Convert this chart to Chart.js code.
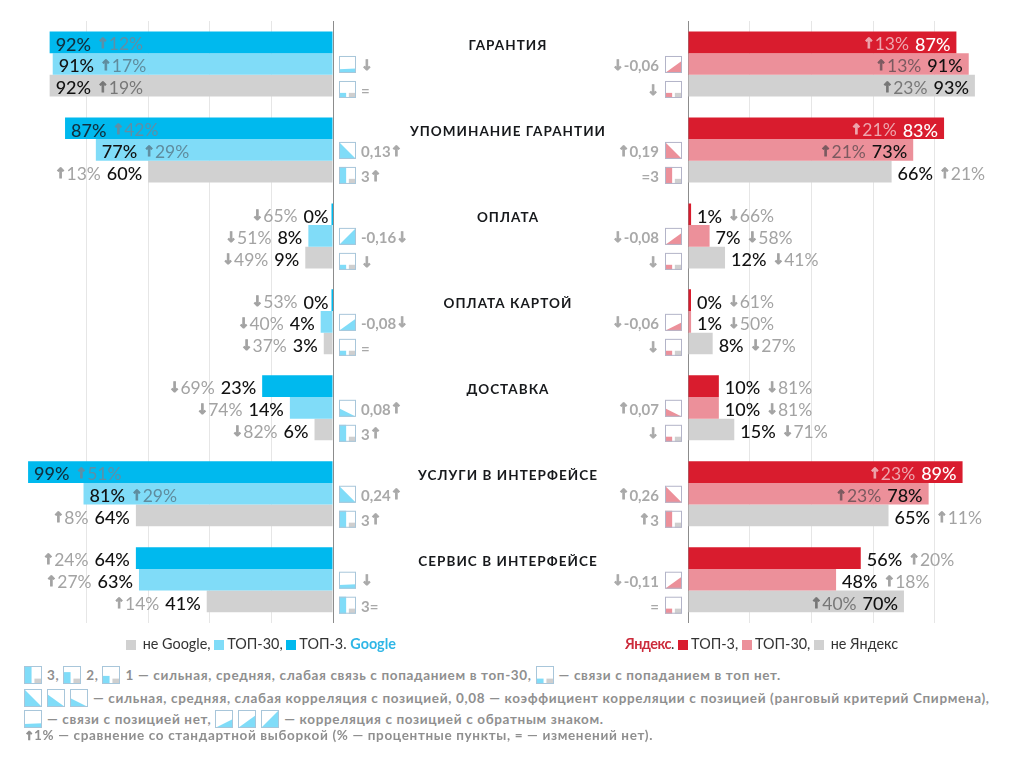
<!DOCTYPE html>
<html lang="ru">
<head>
<meta charset="utf-8">
<title>Гарантия, оплата, доставка</title>
<script src="https://cdn.jsdelivr.net/npm/chart.js@4/dist/chart.umd.min.js"></script>
<style>
    html, body { margin: 0; padding: 0; background: #fff; }
    body { width: 1024px; height: 774px; position: relative; overflow: hidden; font-family: Lato, "DejaVu Sans", sans-serif; }
    canvas.side { position: absolute; top: 0; }
    .title { position: absolute; left: 358px; width: 300px; text-align: center; font-weight: 700; font-size: 13.5px; letter-spacing: 1.05px; color: #17191c; line-height: 16px; white-space: nowrap; }
    .legend { position: absolute; top: 635px; font-size: 14.4px; line-height: 18px; color: #333; white-space: nowrap; }
    .legend i { display: inline-block; width: 10px; height: 10px; margin: 0 3px 0 0; vertical-align: -0.5px; }
    .legend b { font-weight: 700; }
    .note { position: absolute; left: 24px; font-size: 13.5px; font-weight: 700; letter-spacing: 0.65px; color: #8f8f8f; line-height: 18px; white-space: nowrap; }
    .note canvas { vertical-align: -4px; margin-right: 5px; }
    .note span { font: 700 12px "DejaVu Sans", sans-serif; letter-spacing: 0; -webkit-text-stroke: 0.7px #8f8f8f; }
</style>
</head>
<body>
<canvas class="side" id="googleChart" width="512" height="640" style="left:0"></canvas>
<canvas class="side" id="yandexChart" width="512" height="640" style="left:512px"></canvas>
<div id="titles"></div>

<div class="legend" style="left:126px"><i style="background:#d1d1d1"></i> не Google, <i style="background:#80dcf8"></i>ТОП-30, <i style="background:#00b9ee"></i>ТОП-3. <b style="color:#2fb6e6">Google</b></div>
<div class="legend" style="left:625px"><b style="color:#cc2b3b;letter-spacing:-0.5px">Яндекс</b>. <i style="background:#d91c2e"></i>ТОП-3, <i style="background:#ec909a"></i>ТОП-30, <i style="background:#d1d1d1"></i> не Яндекс</div>

<div class="note" style="top:666px"><canvas data-icon="l3"></canvas>3, <canvas data-icon="l2"></canvas>2, <canvas data-icon="l1"></canvas>1 — сильная, средняя, слабая связь с попаданием в топ-30, <canvas data-icon="l0"></canvas>— связи с попаданием в топ нет.</div>
<div class="note" style="top:689px"><canvas data-icon="p3"></canvas><canvas data-icon="p2"></canvas><canvas data-icon="p1"></canvas>— сильная, средняя, слабая корреляция с позицией, 0,08 — коэффициент корреляции с позицией (ранговый критерий Спирмена),</div>
<div class="note" style="top:710px"><canvas data-icon="none"></canvas>— связи с позицией нет, <canvas data-icon="n1"></canvas><canvas data-icon="n2"></canvas><canvas data-icon="n3"></canvas>— корреляция с позицией с обратным знаком.</div>
<div class="note" style="top:726px"><span>↑</span>1% — сравнение со стандартной выборкой (% — процентные пункты, = — изменений нет).</div>

<script>
const categories = ['ГАРАНТИЯ', 'УПОМИНАНИЕ ГАРАНТИИ', 'ОПЛАТА', 'ОПЛАТА КАРТОЙ', 'ДОСТАВКА', 'УСЛУГИ В ИНТЕРФЕЙСЕ', 'СЕРВИС В ИНТЕРФЕЙСЕ'];
const xTicks = [0, 20, 40, 60, 80];

// Google
const googleTop3 = [92, 87, 0, 0, 23, 99, 64];
const googleTop30 = [91, 77, 8, 4, 14, 81, 63];
const googleOther = [92, 60, 9, 3, 6, 64, 41];
const googleTop3Delta = ['↑12%', '↑42%', '↓65%', '↓53%', '↓69%', '↑51%', '↑24%'];
const googleTop30Delta = ['↑17%', '↑29%', '↓51%', '↓40%', '↓74%', '↑29%', '↑27%'];
const googleOtherDelta = ['↑19%', '↑13%', '↓49%', '↓37%', '↓82%', '↑8%', '↑14%'];
const googleCorrIcons = ['none', 'p3', 'n3', 'n2', 'p1', 'p3', 'none'];
const googleCorrText = ['↓', '0,13↑', '-0,16↓', '-0,08↓', '0,08↑', '0,24↑', '↓'];
const googleLinkIcons = ['l0', 'l3', 'l0', 'l0', 'l3', 'l3', 'l3'];
const googleLinkText = ['=', '3↑', '↓', '=', '3↑', '3↑', '3='];

// Яндекс
const yandexTop3 = [87, 83, 1, 0, 10, 89, 56];
const yandexTop30 = [91, 73, 7, 1, 10, 78, 48];
const yandexOther = [93, 66, 12, 8, 15, 65, 70];
const yandexTop3Delta = ['↑13%', '↑21%', '↓66%', '↓61%', '↓81%', '↑23%', '↑20%'];
const yandexTop30Delta = ['↑13%', '↑21%', '↓58%', '↓50%', '↓81%', '↑23%', '↑18%'];
const yandexOtherDelta = ['↑23%', '↑21%', '↓41%', '↓27%', '↓71%', '↑11%', '↑40%'];
const yandexCorrIcons = ['n2', 'p3', 'n2', 'n1', 'p1', 'p3', 'n2'];
const yandexCorrText = ['↓-0,06', '↑0,19', '↓-0,08', '↓-0,06', '↑0,07', '↑0,26', '↓-0,11'];
const yandexLinkIcons = ['l0', 'l3', 'l0', 'l0', 'l0', 'l3', 'l0'];
const yandexLinkText = ['↓', '=3', '↓', '↓', '↓', '↑3', '='];

const BLUE = { fill: '#80dcf8', border: '#a8c6da' };
const RED = { fill: '#ec909a', border: '#b3b4c8' };

// small corr / link marks next to the axis
function drawIcon(ctx, kind, x, y, w, h, pal) {
    const shapes = {
        p3: [[0, 0], [1, 1], [0, 1]],
        p2: [[0, 0.28], [1, 1], [0, 1]],
        p1: [[0, 0.5], [1, 1], [0, 1]],
        n3: [[0, 1], [1, 0], [1, 1]],
        n2: [[0, 1], [1, 0.28], [1, 1]],
        n1: [[0, 1], [1, 0.5], [1, 1]],
        none: [[0, 0.78], [1, 0.74], [1, 1], [0, 1]]
    };
    ctx.save();
    ctx.fillStyle = '#fff';
    ctx.fillRect(x, y, w, h);
    ctx.fillStyle = pal.fill;
    if (shapes[kind]) {
        ctx.beginPath();
        shapes[kind].forEach(p => ctx.lineTo(x + p[0] * w, y + p[1] * h));
        ctx.closePath();
        ctx.fill();
    } else {
        const level = { l3: 1, l2: 0.66, l1: 0.45, l0: 0.3 }[kind];
        ctx.fillRect(x, y + h * (1 - level), w * 0.42, h * level);
        ctx.fillStyle = '#cfcfcf';
        ctx.fillRect(x + w * 0.58, y + h * 0.7, w * 0.42, h * 0.3);
    }
    ctx.strokeStyle = pal.border;
    ctx.lineWidth = 1;
    ctx.strokeRect(x + 0.5, y + 0.5, w - 1, h - 1);
    ctx.restore();
}

const VALUE_FONT = '500 18px Lato, "DejaVu Sans", sans-serif';
const DELTA_FONT = '400 17.5px Lato, "DejaVu Sans", sans-serif';
const ICON_FONT = '700 15px Lato, "DejaVu Sans", sans-serif';
const ARROW_FONT = '700 14px "DejaVu Sans", sans-serif';

// arrows come from another font and get a stroke so they look as heavy as in the print
function drawRuns(ctx, text, x, y, dir, font) {
    const runs = text.split(/([↑↓])/).filter(Boolean).map(t => {
        const arrow = /[↑↓]/.test(t);
        ctx.font = arrow ? ARROW_FONT : font;
        return { t: t, arrow: arrow, w: ctx.measureText(t).width };
    });
    const total = runs.reduce((sum, r) => sum + r.w, 0);
    let cx = dir > 0 ? x : x - total;
    ctx.textAlign = 'left';
    runs.forEach(r => {
        ctx.font = r.arrow ? ARROW_FONT : font;
        ctx.fillText(r.t, cx, y);
        if (r.arrow) {
            ctx.strokeStyle = ctx.fillStyle;
            ctx.lineWidth = 0.9;
            ctx.strokeText(r.t, cx, y);
        }
        cx += r.w;
    });
}

const barLabelsPlugin = {
    id: 'barLabels',
    afterDatasetsDraw(chart, args, opts) {
        const ctx = chart.ctx;
        const flip = opts.side === 'left';
        ctx.save();
        ctx.textBaseline = 'middle';
        chart.data.datasets.forEach((ds, d) => {
            chart.getDatasetMeta(d).data.forEach((bar, i) => {
                const inside = ds.data[i] >= 70;
                const dir = (flip ? 1 : -1) * (inside ? 1 : -1);
                const value = ds.data[i] + '%';
                const y = bar.y + 2.5;
                let x = bar.x + dir * 6;
                ctx.font = VALUE_FONT;
                ctx.fillStyle = inside ? ds.valueColor : '#111';
                const valueWidth = ctx.measureText(value).width;
                drawRuns(ctx, value, x, y, dir, VALUE_FONT);
                x += dir * (valueWidth + 6);
                ctx.fillStyle = inside ? ds.deltaColor : '#a3a3a3';
                drawRuns(ctx, ds.deltas[i], x, y, dir, DELTA_FONT);
            });
        });
        // icons and their captions
        const zero = chart.scales.x.getPixelForValue(0);
        const size = 17;
        const iconX = flip ? zero + 6 : zero - 6 - size;
        const textX = flip ? iconX + size + 5 : iconX - 6;
        const dir = flip ? 1 : -1;
        ctx.fillStyle = '#a9a9a9';
        chart.data.labels.forEach((c, i) => {
            const cy = chart.scales.y.getPixelForValue(i);
            drawIcon(ctx, opts.corrIcons[i], iconX, cy - 8, size, size, opts.palette);
            drawIcon(ctx, opts.linkIcons[i], iconX, cy + 17, size, size, opts.palette);
            drawRuns(ctx, opts.corrText[i], textX, cy + 2, dir, ICON_FONT);
            drawRuns(ctx, opts.linkText[i], textX, cy + 27, dir, ICON_FONT);
        });
        ctx.restore();
    }
};

function createSideChart(canvasId, cfg) {
    return new Chart(document.getElementById(canvasId).getContext('2d'), {
        type: 'bar',
        data: {
            labels: categories,
            datasets: cfg.series.map(s => ({
                data: s.data,
                deltas: s.deltas,
                valueColor: s.valueColor,
                deltaColor: s.deltaColor,
                backgroundColor: s.color,
                categoryPercentage: 0.756,
                barPercentage: 1,
                borderWidth: 0,
                minBarLength: 3
            }))
        },
        options: {
            indexAxis: 'y',
            responsive: false,
            animation: false,
            layout: { padding: cfg.padding },
            plugins: {
                legend: { display: false },
                tooltip: { enabled: false },
                barLabels: {
                    side: cfg.side,
                    palette: cfg.palette,
                    corrIcons: cfg.corrIcons,
                    corrText: cfg.corrText,
                    linkIcons: cfg.linkIcons,
                    linkText: cfg.linkText
                }
            },
            scales: {
                x: {
                    min: 0,
                    max: 100,
                    reverse: cfg.side === 'left',
                    afterBuildTicks: axis => { axis.ticks = xTicks.map(v => ({ value: v })); },
                    ticks: { display: false },
                    border: { display: false },
                    grid: {
                        drawTicks: false,
                        color: c => (c.tick && c.tick.value === 0 ? '#8c8c8c' : '#e6e6e6')
                    }
                },
                y: {
                    display: false,
                    grid: { display: false }
                }
            }
        },
        plugins: [barLabelsPlugin]
    });
}

const googleChart = createSideChart('googleChart', {
    side: 'left',
    padding: { left: 25, right: 179, top: 21, bottom: 17.3 },
    palette: BLUE,
    corrIcons: googleCorrIcons,
    corrText: googleCorrText,
    linkIcons: googleLinkIcons,
    linkText: googleLinkText,
    series: [
        { data: googleTop3, deltas: googleTop3Delta, color: '#00b9ee', valueColor: '#10303f', deltaColor: '#5f8fa6' },
        { data: googleTop30, deltas: googleTop30Delta, color: '#80dcf8', valueColor: '#111', deltaColor: '#5f8c9e' },
        { data: googleOther, deltas: googleOtherDelta, color: '#d1d1d1', valueColor: '#111', deltaColor: '#777' }
    ]
});

createSideChart('yandexChart', {
    side: 'right',
    padding: { left: 176, right: 27.5, top: 21, bottom: 17.3 },
    palette: RED,
    corrIcons: yandexCorrIcons,
    corrText: yandexCorrText,
    linkIcons: yandexLinkIcons,
    linkText: yandexLinkText,
    series: [
        { data: yandexTop3, deltas: yandexTop3Delta, color: '#d91c2e', valueColor: '#fff', deltaColor: '#eda6ae' },
        { data: yandexTop30, deltas: yandexTop30Delta, color: '#ec909a', valueColor: '#111', deltaColor: '#7b5a60' },
        { data: yandexOther, deltas: yandexOtherDelta, color: '#d1d1d1', valueColor: '#111', deltaColor: '#777' }
    ]
});

// group titles sit in the gap between the two charts
categories.forEach((name, i) => {
    const div = document.createElement('div');
    div.className = 'title';
    div.textContent = name;
    div.style.top = (googleChart.scales.y.getPixelForValue(i) - 27) + 'px';
    document.getElementById('titles').appendChild(div);
});

document.querySelectorAll('.note canvas').forEach(c => {
    c.width = 18;
    c.height = 18;
    drawIcon(c.getContext('2d'), c.dataset.icon, 0, 0, 18, 18, BLUE);
});
</script>
</body>
</html>
